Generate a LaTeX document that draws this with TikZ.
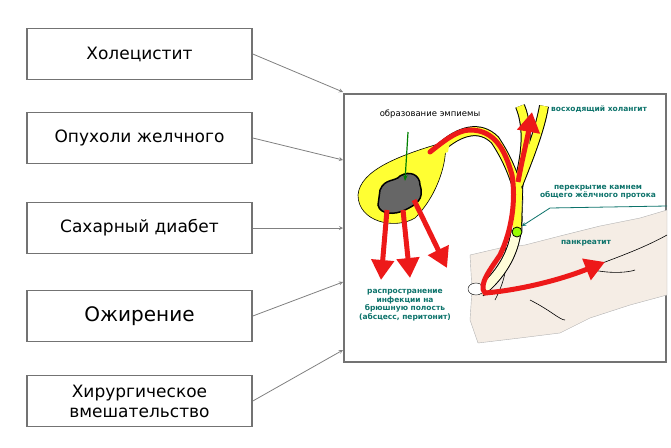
\documentclass[tikz,border=0pt]{standalone}
\usepackage{fontspec}
\setmainfont{DejaVu Sans}
\usetikzlibrary{calc}
\usetikzlibrary{arrows.meta}
\definecolor{boxGray}{gray}{0.45}
\definecolor{labelTeal}{rgb}{0.05,0.45,0.42}
\definecolor{bileYellow}{rgb}{1,1,0.2}
\definecolor{stoneGray}{gray}{0.4}
\definecolor{pancColor}{rgb}{0.96,0.93,0.9}
\definecolor{ductRed}{rgb}{0.93,0.1,0.1}
\tikzset{
	causeBox/.style={draw=boxGray,line width=1.6pt,fill=white,minimum width=225pt,minimum height=51pt,inner sep=0pt,font=\fontsize{17}{20}\selectfont},
	causeArrow/.style={draw=gray,line width=0.8pt,-stealth},
	tealText/.style={text=labelTeal,font=\bfseries\fontsize{7.5}{8.5}\selectfont,align=center,inner sep=0pt},
	redArrow/.style={draw=ductRed,line width=5pt,-{Triangle[length=20pt,width=22pt]}}
}
\begin{document}
\begin{tikzpicture}[x=1pt,y=-1pt]
\useasboundingbox (0,0) rectangle (671,447);
% causes
\node[causeBox] (c1) at (139.5,54) {Холецистит};
\node[causeBox] (c2) at (139.5,138) {Опухоли желчного};
\node[causeBox] (c3) at (139.5,228) {Сахарный диабет};
\node[causeBox,font=\fontsize{20}{22}\selectfont] (c4) at (139.5,316) {Ожирение};
\node[causeBox,align=center] (c5) at (139.5,401) {Хирургическое\\вмешательство};
% panel
\node[draw=boxGray,line width=1.8pt,minimum width=322pt,minimum height=268pt,inner sep=0pt] (panel) at (505,228) {};
\coordinate (p1) at (343,92);
\coordinate (p2) at (343,160);
\coordinate (p3) at (343,228);
\coordinate (p4) at (343,282);
\coordinate (p5) at (343,350);
\draw[causeArrow] (c1.east) -- (p1);
\draw[causeArrow] (c2.east) -- (p2);
\draw[causeArrow] (c3.east) -- (p3);
\draw[causeArrow] (c4.east) -- (p4);
\draw[causeArrow] (c5.east) -- (p5);
% pancreas
\draw[gray!60,fill=pancColor] (470,255) -- (500,248) -- (525,245) -- (560,236) -- (600,226) -- (640,218) -- (667,210)
	-- (667,295) -- (630,305) -- (590,318) -- (560,333) -- (520,338) -- (478,343) -- (470,320) -- (472,290) -- cycle;
\draw[black,line width=0.6pt] (505,245) .. controls (510,270) and (500,290) .. (495,300);
\draw[black,line width=0.6pt] (530,300) .. controls (550,310) and (560,320) .. (565,320);
\draw[black,line width=0.6pt] (570,275) .. controls (610,260) and (640,250) .. (667,235);
\draw[black,line width=0.6pt] (585,268) .. controls (610,275) and (630,272) .. (635,270);
% common duct
\draw[black,line width=11pt] (518,180) -- (516,232) .. controls (512,260) and (495,280) .. (480,292);
\draw[white!85!yellow,line width=9pt] (518,180) -- (516,232) .. controls (512,260) and (495,280) .. (480,292);
% hepatic ducts and cystic duct
\draw[black,line width=10pt] (518,185) .. controls (525,160) and (530,130) .. (520,106);
\draw[black,line width=10pt] (518,185) .. controls (528,160) and (540,130) .. (544,106);
\draw[black,line width=10pt] (440,148) .. controls (460,130) and (480,125) .. (495,140) .. controls (505,155) and (512,170) .. (518,190);
\draw[bileYellow,line width=8pt] (518,185) .. controls (525,160) and (530,130) .. (520,106);
\draw[bileYellow,line width=8pt] (518,185) .. controls (528,160) and (540,130) .. (544,106);
\draw[bileYellow,line width=8pt] (440,148) .. controls (460,130) and (480,125) .. (495,140) .. controls (505,155) and (512,170) .. (518,190) -- (517,232);
\draw[black] (512,196) -- (511,232);
\draw[black] (523,196) -- (522,232);
% gallbladder
\draw[black,fill=bileYellow,line width=0.6pt] (358,195) .. controls (360,170) and (400,155) .. (445,142)
	.. controls (448,160) and (438,195) .. (415,218) .. controls (395,230) and (358,222) .. (358,195) -- cycle;
\fill[bileYellow] (440,143) -- (450,140) -- (448,152) -- (438,155) -- cycle;
\draw[black,fill=white] (476,289) ellipse (8 and 6);
% stone
\draw[black,line width=1.5pt,fill=stoneGray] (380,190) .. controls (385,178) and (395,182) .. (400,176)
	.. controls (410,170) and (420,175) .. (420,185) .. controls (425,200) and (415,205) .. (405,210)
	.. controls (395,215) and (380,215) .. (378,205) -- cycle;
\draw[black,fill=green!40!yellow,line width=0.8pt] (517,232) circle (5);
% red path
\draw[ductRed,line width=5pt,line cap=round] (430,152) .. controls (445,140) and (458,130) .. (470,130)
	.. controls (495,130) and (505,150) .. (512,175) .. controls (516,200) and (512,230) .. (500,255)
	.. controls (490,270) and (478,285) .. (485,293);
\draw[redArrow] (485,293) .. controls (520,290) and (560,280) .. (605,262);
\draw[redArrow] (518,182) .. controls (522,160) and (527,140) .. (532,112);
\draw[redArrow] (387,210) -- (381,280);
\draw[redArrow] (403,210) -- (410,278);
\draw[redArrow] (414,200) -- (447,268);
% labels
\node[font=\fontsize{8.5}{9}\selectfont,inner sep=0pt] (empyema) at (430,114) {образование эмпиемы};
\coordinate (stoneTop) at (405,181);
\draw[green!50!black,line width=1.2pt,-{Stealth[length=6pt]}] (408,132) -- (stoneTop);
\node[tealText,anchor=west] (cholang) at (551,109) {восходящий холангит};
\node[tealText] (block) at (598,192) {перекрытие камнем\\общего жёлчного протока};
\coordinate (stoneDuct) at (522,226);
\draw[labelTeal,line width=0.8pt,-stealth] (667,206) -- (550,208) -- (stoneDuct);
\node[tealText] (panc) at (586,243) {панкреатит};
\node[tealText] (spread) at (405,305) {распространение\\инфекции на\\брюшную полость\\(абсцесс, перитонит)};
\end{tikzpicture}
\end{document}
